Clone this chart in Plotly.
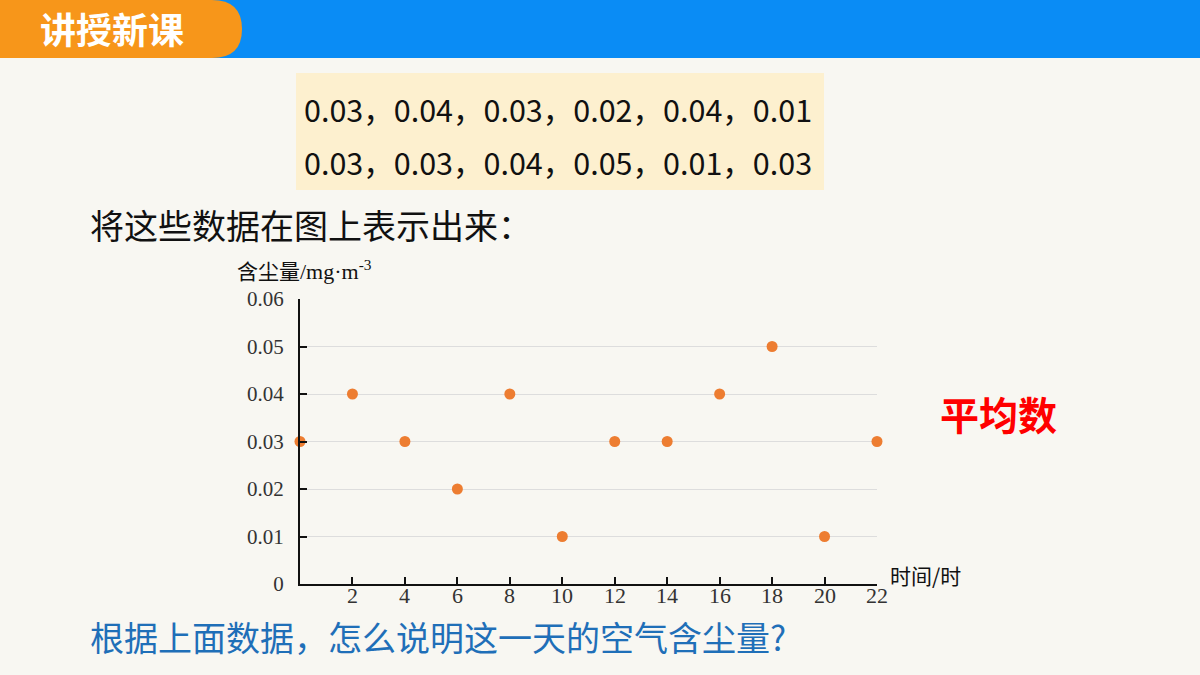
import plotly.graph_objects as go

hours = [0, 2, 4, 6, 8, 10, 12, 14, 16, 18, 20, 22]
dust = [0.03, 0.04, 0.03, 0.02, 0.04, 0.01, 0.03, 0.03, 0.04, 0.05, 0.01, 0.03]
x_ticks = [2, 4, 6, 8, 10, 12, 14, 16, 18, 20, 22]
x_tick_labels = ["2", "4", "6", "8", "10", "12", "14", "16", "18", "20", "22"]
y_ticks = [0, 0.01, 0.02, 0.03, 0.04, 0.05, 0.06]
y_tick_labels = ["0", "0.01", "0.02", "0.03", "0.04", "0.05", "0.06"]
row1 = "0.03，0.04，0.03，0.02，0.04，0.01"
row2 = "0.03，0.03，0.04，0.05，0.01，0.03"

W, H = 1200, 675
SANS = "Noto Sans CJK SC, Noto Sans, sans-serif"
SERIF = "Liberation Serif, Times New Roman, serif"

x0, x1 = 300 / W, 877 / W
y0, y1 = 1 - 584 / H, 1 - 299 / H
y_range = [0, 0.06]

fig = go.Figure()
fig.add_trace(go.Scatter(
    x=hours, y=dust, mode="markers",
    marker=dict(color="#ed7d31", size=11, line=dict(width=0)),
    cliponaxis=False, showlegend=False, hoverinfo="x+y"))

axis_font = dict(family=SERIF, size=21, color="#333333")
fig.update_layout(
    width=W, height=H,
    margin=dict(l=0, r=0, t=0, b=0),
    paper_bgcolor="#f8f7f2", plot_bgcolor="rgba(0,0,0,0)",
    xaxis=dict(domain=[x0, x1], range=[0, 22], tickvals=x_ticks,
               showticklabels=False,
               ticks="inside", ticklen=7, tickwidth=1.5, tickcolor="#111",
               showline=True, linecolor="#111", linewidth=2,
               showgrid=False, zeroline=False, automargin=False),
    yaxis=dict(domain=[y0, y1], range=y_range, tickvals=y_ticks,
               ticktext=y_tick_labels,
               ticks="inside", ticklen=7, tickwidth=1.5, tickcolor="#111",
               showline=True, linecolor="#111", linewidth=2,
               showgrid=True, gridcolor="#dddddd", gridwidth=1,
               zeroline=False, tickfont=axis_font, ticklabelstandoff=10,
               automargin=False),
)

# x tick labels placed on the x data scale, just under the axis line
for tv, tl in zip(x_ticks, x_tick_labels):
    fig.add_annotation(xref="x", yref="paper", x=tv, y=1 - 595 / H, text=tl,
                       showarrow=False, xanchor="center", yanchor="middle",
                       font=dict(family=SERIF, size=22, color="#333333"))

shapes = [
    dict(type="rect", xref="paper", yref="paper", x0=0, x1=1,
         y0=1 - 58 / H, y1=1, fillcolor="#0a8cf5", line=dict(width=0), layer="below"),
    dict(type="path", xref="paper", yref="paper",
         path=(f"M 0 {1-58/H} L {212/W} {1-58/H} "
               f"Q {242/W} {1-58/H} {242/W} {1-29/H} "
               f"Q {242/W} 1 {212/W} 1 L 0 1 Z"),
         fillcolor="#f7961a", line=dict(width=0), layer="below"),
    dict(type="rect", xref="paper", yref="paper", x0=296 / W, x1=824 / W,
         y0=1 - 190 / H, y1=1 - 73 / H, fillcolor="#fdf0cf", line=dict(width=0), layer="below"),
]
fig.update_layout(shapes=shapes)

def txt(x, y, s, size, color, family=SANS, xanchor="left", bold=False):
    if bold:
        s = f"<b>{s}</b>"
    fig.add_annotation(xref="paper", yref="paper", x=x / W, y=1 - y / H, text=s,
                       showarrow=False, xanchor=xanchor, yanchor="middle",
                       font=dict(family=family, size=size, color=color))

txt(38, 28, "讲授新课", 36, "#ffffff", bold=True)
txt(302, 109, row1, 30.5, "#111111")
txt(302, 162, row2, 30.5, "#111111")
txt(88, 225, "将这些数据在图上表示出来：", 34, "#111111")
txt(938, 413, "平均数", 39, "#ff0000", bold=True)
txt(88, 636, "根据上面数据，怎么说明这一天的空气含尘量?", 34, "#1f6fb8")
txt(888, 575, "时间/时", 21, "#111111")
fig.add_annotation(xref="paper", yref="paper", x=235 / W, y=1 - 270 / H,
                   text="<span style='font-family:Noto Sans CJK SC;font-size:21px'>含尘量</span>/mg·m<sup>-3</sup>",
                   showarrow=False, xanchor="left", yanchor="middle",
                   font=dict(family=SERIF, size=22, color="#111111"))

post = ("document.body.style.margin='0px';"
        "document.body.style.padding='0px';"
        "document.documentElement.style.overflow='hidden';"
        "document.body.style.overflow='hidden';")
fig.write_html("out.html", post_script=post, config={"responsive": False, "displayModeBar": False})
